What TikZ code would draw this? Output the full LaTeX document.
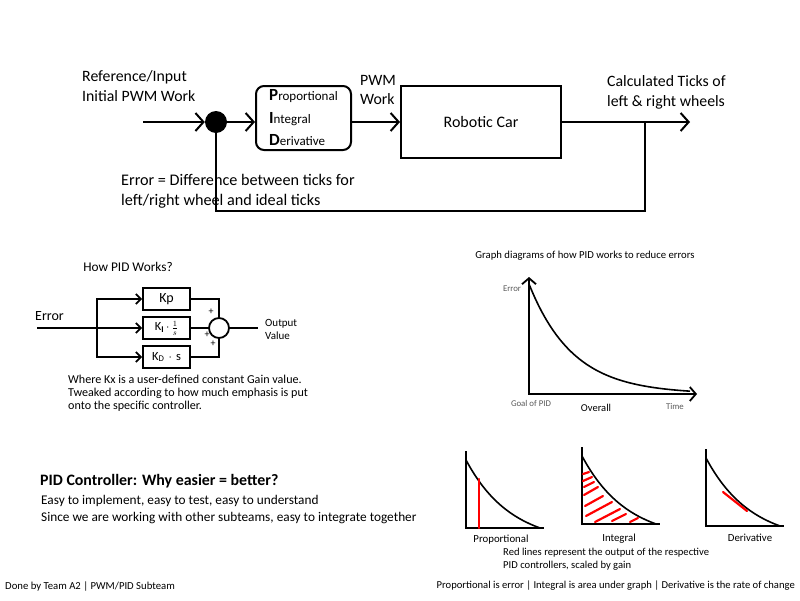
\documentclass[tikz,border=0pt]{standalone}
\usepackage{fontspec}
\setmainfont{Carlito}
\usetikzlibrary{arrows.meta}
\newcommand\pidletter[1]{{\fontsize{17}{17}\selectfont\bfseries #1}}
\begin{document}
\begin{tikzpicture}[x = 1pt, y = -1pt,
    wire/.style = {line width = 2pt},
    flow/.style = {wire, -{Straight Barb[length = 8pt, width = 18pt]}},
    gwire/.style = {line width = 1.8pt},
    gflow/.style = {gwire, -{Straight Barb[length = 5pt, width = 10pt]}},
    block/.style = {draw, line width = 2pt, inner sep = 0pt},
    gainbox/.style = {draw, line width = 1.8pt, minimum width = 47pt,
      minimum height = 22pt, inner sep = 0pt, font = \fontsize{12.5}{12.5}\selectfont},
    txt/.style = {inner sep = 0pt, align = left},
    axis/.style = {line width = 1.8pt,
      {Straight Barb[length = 6pt, width = 14pt]}-{Straight Barb[length = 6pt, width = 14pt]}},
    smallaxis/.style = {line width = 2pt},
    curve/.style = {line width = 1.6pt},
    redline/.style = {line width = 2.2pt, red, line cap = round},
    axlabel/.style = {inner sep = 0pt, gray!70!black, font = \fontsize{8.8}{9}\selectfont}
  ]
  \useasboundingbox (0,0) rectangle (800,600);

  % feedback loop
  \node [circle, fill, inner sep = 0pt, minimum size = 22pt] (sum) at (216,122) {};
  \node [block, rounded corners = 8pt, minimum width = 95pt, minimum height = 64pt,
    align = left, font = \fontsize{13}{22.5}\selectfont] (pid) at (303.5,118)
    {\pidletter{P}roportional\\\pidletter{I}ntegral\\\pidletter{D}erivative};
  \node [block, minimum width = 160pt, minimum height = 72pt,
    font = \fontsize{16}{18}\selectfont] (car) at (481,122) {Robotic Car};
  \coordinate (in) at (143,122);
  \coordinate (tap) at (645,122);
  \coordinate (out) at (690,122);
  \draw [flow] (in) -- (sum);
  \draw [flow] (sum) -- (sum -| pid.west);
  \draw [flow] (pid.east |- sum) -- (car);
  \draw [flow] (car) -- (out);
  \draw [wire] (tap) -- ++(0,89) -| (sum);
  \node [txt, anchor = west, font = \fontsize{15.8}{20}\selectfont] (reflabel) at (82,86)
    {Reference/Input\\Initial PWM Work};
  \node [txt, anchor = west, font = \fontsize{15.8}{19}\selectfont] (pwmlabel) at (360,89.5)
    {PWM\\Work};
  \node [txt, anchor = west, font = \fontsize{15.8}{20}\selectfont] (ticklabel) at (607,92)
    {Calculated Ticks of\\left \& right wheels};
  \node [txt, anchor = west, font = \fontsize{16.2}{20}\selectfont] (errlabel) at (121,191)
    {Error = Difference between ticks for\\left/right wheel and ideal ticks};

  % how PID works
  \node [txt, font = \fontsize{13.3}{14}\selectfont] (howtitle) at (128,267) {How PID Works?};
  \node [gainbox, font = \fontsize{14}{14}\selectfont] (kp) at (166.5,299) {Kp};
  \node [gainbox] (ki) at (166.5,328) {K\textsubscript{\textbf{I}}\,$\cdot$\,{\fontsize{11.5}{11.5}\selectfont$\frac{1}{s}$}};
  \node [gainbox] (kd) at (166.5,357) {K\textsubscript{D}\,\,$\cdot$\,\,s};
  \node [circle, draw, line width = 1.8pt, inner sep = 0pt, minimum size = 20pt] (sum2) at (219,328) {};
  \coordinate (err) at (37,328);
  \coordinate (split) at (97,328);
  \coordinate (gout) at (258,328);
  \draw [gflow] (err) -- (ki);
  \draw [gflow] (split) |- (kp);
  \draw [gflow] (split) |- (kd);
  \draw [gwire] (kp) -| (sum2);
  \draw [gwire] (ki) -- (sum2);
  \draw [gwire] (kd) -| (sum2);
  \draw [gwire] (sum2) -- (gout);
  \foreach \px/\py in {211/312, 207/335, 213/344}
    \node [inner sep = 0pt, font = \fontsize{10}{10}\selectfont] at (\px,\py) {+};
  \node [txt, anchor = west, font = \fontsize{14}{14}\selectfont] (errin) at (35,316) {Error};
  \node [txt, anchor = west, font = \fontsize{11}{13}\selectfont] (outval) at (265,329.5)
    {Output\\Value};
  \node [txt, anchor = west, font = \fontsize{12.1}{13}\selectfont] (gainnote) at (68,393)
    {Where Kx is a user-defined constant Gain value.\\Tweaked according to how much emphasis is put\\onto the specific controller.};

  % overall graph
  \node [txt, font = \fontsize{10.7}{11}\selectfont] (graphtitle) at (585,256)
    {Graph diagrams of how PID works to reduce errors};
  \coordinate (origin) at (529,394);
  \coordinate (ytop) at (529,277);
  \coordinate (xend) at (697,394);
  \draw [axis] (ytop) -- (origin) -- (xend);
  \draw [curve] plot [domain = 0:161, samples = 80] ({529+\x}, {394-110*exp(-\x/44)});
  \node [axlabel] (erraxis) at (512,289) {Error};
  \node [axlabel] (goal) at (531,403) {Goal of PID};
  \node [axlabel] (time) at (675,406) {Time};
  \node [txt, font = \fontsize{10.5}{11}\selectfont] (overall) at (596,408) {Overall};

  % the three controllers
  \foreach \gx/\gy in {466/528, 582/524, 706/526} {
    \draw [smallaxis] (\gx,\gy-77) -- (\gx,\gy) -- (\gx+78,\gy);
    \draw [curve] plot [domain = 0:74, samples = 40]
      ({\gx+\x}, {\gy-68*(exp(-\x/45)-0.193)/0.807});
  }
  \draw [redline] (479,528) -- (479,479);
  \foreach \ax/\ay/\bx/\by in {583/474/589/472, 583/481/592/477, 584/487/594/482,
      584/495/598/487, 585/506/603/496, 586/516/612/502, 595/522/620/509,
      612/521/626/514, 630/522/638/518}
    \draw [redline] (\ax,\ay) -- (\bx,\by);
  \draw [redline] (723,492) -- (747,511);
  \node [txt, font = \fontsize{10.8}{12}\selectfont] (plabel) at (501,540) {Proportional};
  \node [txt, font = \fontsize{10.8}{12}\selectfont] (ilabel) at (619,539) {Integral};
  \node [txt, font = \fontsize{10.8}{12}\selectfont] (dlabel) at (750,538) {Derivative};
  \node [txt, anchor = west, font = \fontsize{10.6}{13}\selectfont] (rednote) at (503,559.5)
    {Red lines represent the output of the respective\\PID controllers, scaled by gain};

  % notes
  \node [txt, anchor = west, font = \fontsize{15.9}{16}\selectfont\bfseries] (whytitle) at (40,481)
    {PID Controller: Why easier = better?};
  \node [txt, anchor = west, font = \fontsize{13.3}{17.5}\selectfont] (whytext) at (41,509.5)
    {Easy to implement, easy to test, easy to understand\\Since we are working with other subteams, easy to integrate together};
  \node [txt, anchor = west, font = \fontsize{10.7}{12}\selectfont] (credit) at (5,587)
    {Done by Team A2 | PWM/PID Subteam};
  \node [txt, anchor = east, font = \fontsize{10.6}{12}\selectfont] (summary) at (795,586)
    {Proportional is error | Integral is area under graph | Derivative is the rate of change};
\end{tikzpicture}
\end{document}
